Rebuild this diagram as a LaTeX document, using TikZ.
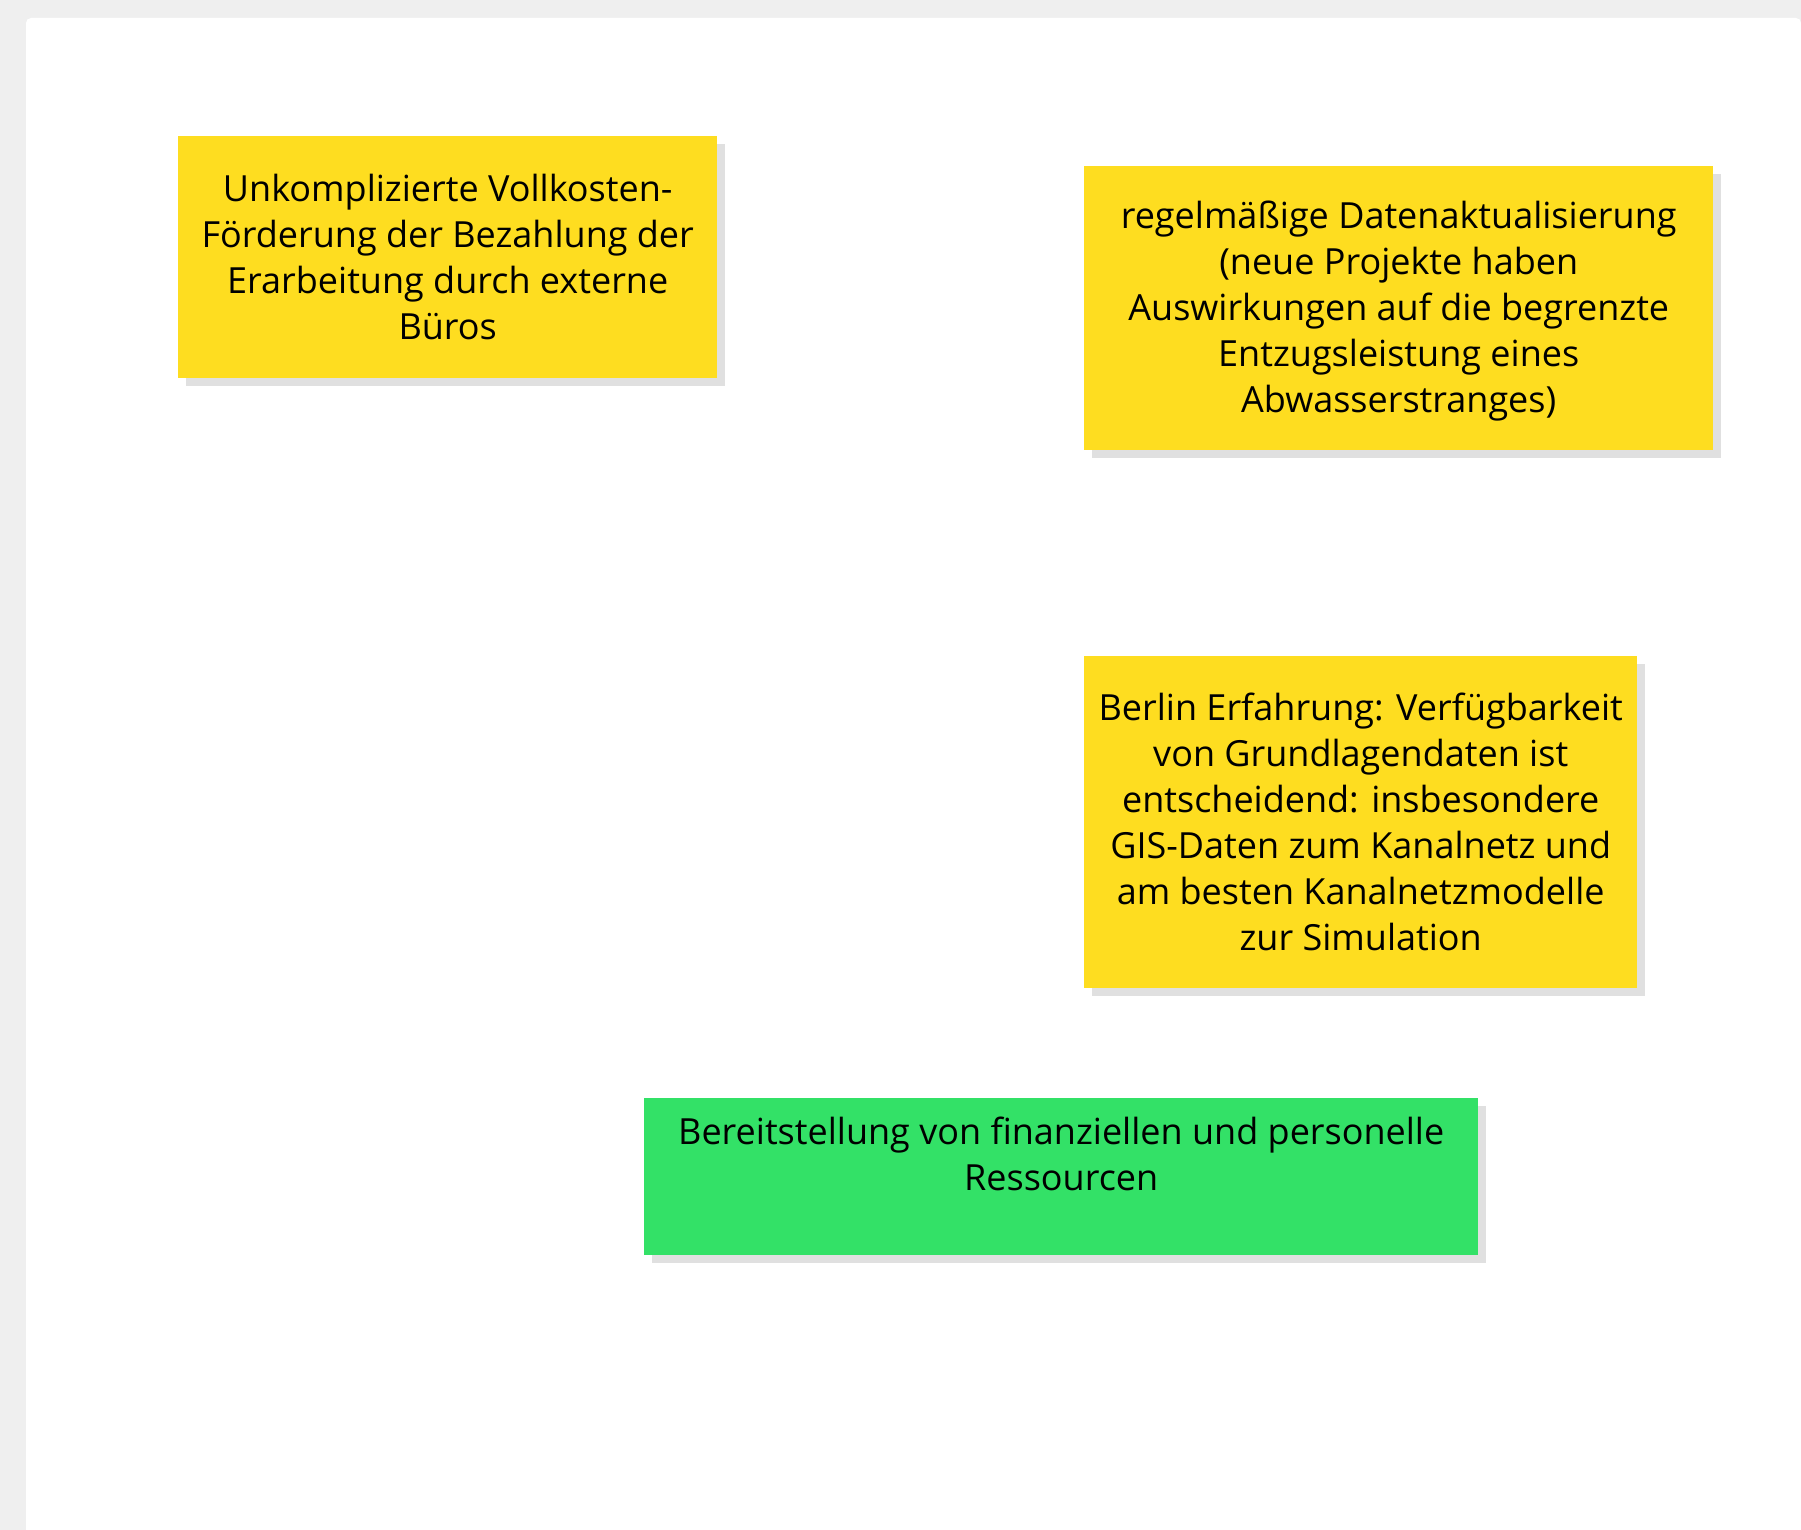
\documentclass[tikz,border=0pt]{standalone}
\usepackage{fontspec}
\setmainfont{Open Sans}
\usetikzlibrary{shadows}
\definecolor{bgc}{HTML}{EFEFEF}
\definecolor{yel}{HTML}{FEDD20}
\definecolor{grn}{HTML}{33E167}
\definecolor{shc}{HTML}{E0E0E0}
\tikzset{
  card/.style={rectangle, inner sep=0pt, align=center, anchor=north west,
    font=\fontsize{36}{46}\selectfont, text=black,
    drop shadow={shadow xshift=8pt, shadow yshift=-8pt, fill=shc, opacity=1}},
  ycard/.style={card, fill=yel},
  gcard/.style={card, fill=grn}
}
\begin{document}
\begin{tikzpicture}[x=1pt,y=-1pt]
\useasboundingbox (0,0) rectangle (1801,1530);
\fill[bgc] (0,0) rectangle (1801,1530);
\fill[white] (26,1530) [rounded corners=5pt] |- (1801,18) [sharp corners] -- (1801,1530) -- cycle;

\node[ycard, minimum width=539pt, minimum height=242pt] (b1) at (178,136)
  {Unkomplizierte Vollkosten-\\Förderung der Bezahlung der\\Erarbeitung durch externe\\Büros};
\node[ycard, minimum width=629pt, minimum height=284pt] (b2) at (1084,166)
  {\rule{0pt}{34pt}regelmäßige Datenaktualisierung\\(neue Projekte haben\\Auswirkungen auf die begrenzte\\Entzugsleistung eines\\Abwasserstranges)};
\node[ycard, minimum width=553pt, minimum height=332pt] (b3) at (1084,656)
  {Berlin Erfahrung: Verfügbarkeit\\von Grundlagendaten ist\\entscheidend: insbesondere\\GIS-Daten zum Kanalnetz und\\am besten Kanalnetzmodelle\\zur Simulation};
\node[gcard, minimum width=834pt, minimum height=157pt] (b4) at (644,1098)
  {\strut Bereitstellung von finanziellen und personelle\\\strut Ressourcen\\\rule[-5pt]{0pt}{5pt}};
\end{tikzpicture}
\end{document}
